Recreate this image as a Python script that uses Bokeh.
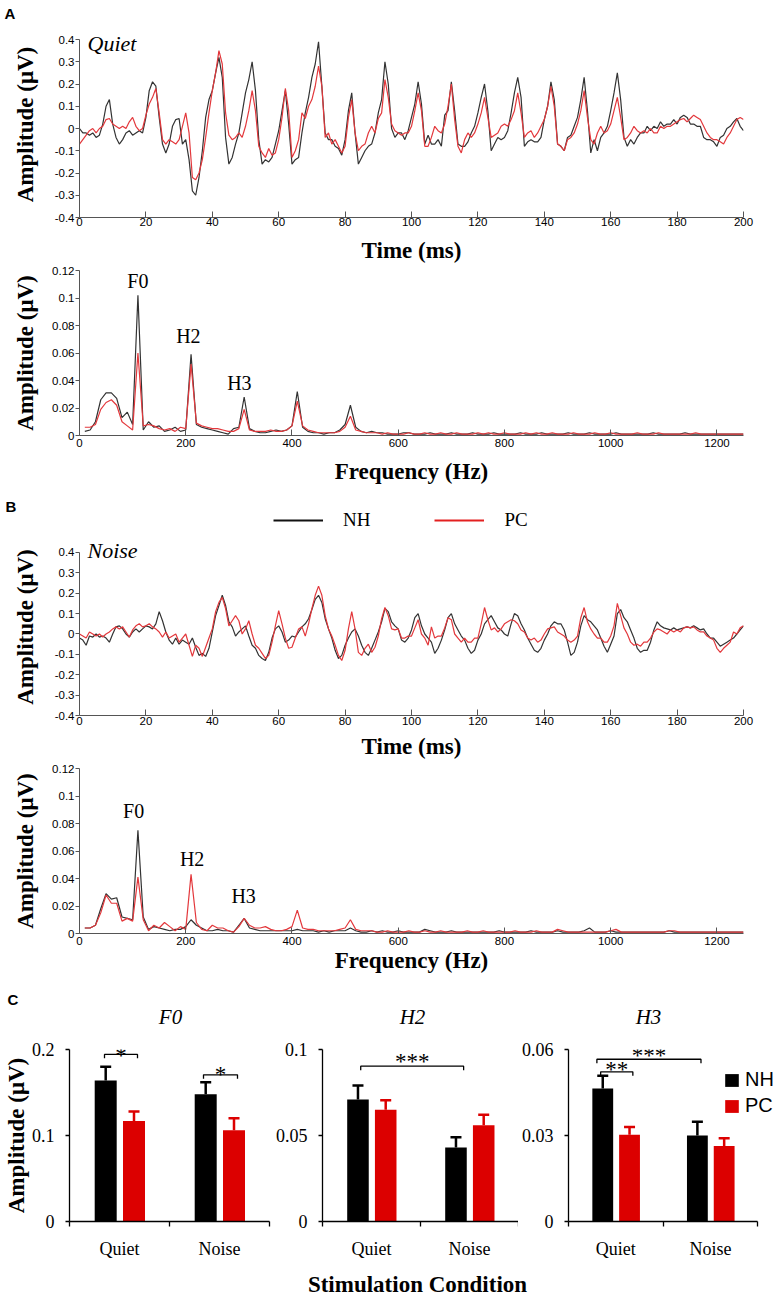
from math import pi
from bokeh.plotting import figure
from bokeh.models import (ColumnDataSource, FixedTicker, Label, Legend, LegendItem,
                          Whisker, TeeHead, Range1d)
from bokeh.layouts import column, row
from bokeh.embed import file_html
from bokeh.resources import INLINE
from bokeh.core.properties import value

# ------------------------------------------------------------------ data
time_ms = list(range(0, 201))

quiet_nh = [
    0.00, -0.02, -0.02, -0.03, -0.02, -0.04, -0.03, 0.02, 0.10, 0.13,
    0.02, -0.04, -0.07, -0.05, -0.02, -0.01, -0.03, -0.02, -0.01, -0.02,
    0.05, 0.17, 0.21, 0.19, 0.05, -0.07, -0.11, -0.07, 0.01, 0.04,
    0.045, -0.07, -0.05, -0.14, -0.28, -0.30, -0.22, -0.10, 0.05, 0.13,
    0.17, 0.25, 0.32, 0.23, -0.04, -0.16, -0.13, -0.07, -0.02, 0.07,
    0.16, 0.22, 0.30, 0.17, -0.05, -0.16, -0.14, -0.15, -0.13, -0.07,
    -0.01, 0.08, 0.17, 0.02, -0.16, -0.14, -0.13, -0.02, 0.07, 0.14,
    0.23, 0.29, 0.39, 0.19, -0.02, -0.05, -0.05, -0.08, -0.09, -0.12,
    -0.05, 0.08, 0.16, -0.02, -0.16, -0.13, -0.10, -0.08, -0.07, -0.02,
    0.07, 0.13, 0.30, 0.20, 0.00, -0.04, -0.02, -0.02, -0.05, -0.01,
    0.05, 0.11, 0.21, 0.11, -0.07, -0.03, -0.07, -0.07, -0.05, -0.08,
    0.06, 0.08, 0.21, 0.08, -0.07, -0.08, -0.08, -0.06, -0.02, 0.01,
    0.07, 0.14, 0.20, 0.08, -0.10, -0.07, -0.04, -0.05, -0.04, -0.01,
    0.07, 0.16, 0.23, 0.14, -0.08, -0.06, -0.05, -0.06, -0.06, -0.04,
    0.04, 0.10, 0.21, 0.13, -0.07, -0.08, -0.10, -0.04, -0.03, 0.01,
    0.05, 0.13, 0.23, 0.08, -0.11, -0.05, -0.10, -0.04, -0.02, 0.01,
    0.08, 0.16, 0.25, 0.13, -0.04, -0.08, -0.05, -0.07, -0.04, -0.02,
    -0.02, 0.01, -0.01, 0.01, 0.00, 0.03, 0.01, 0.02, 0.02, 0.04,
    0.02, 0.05, 0.06, 0.05, 0.02, 0.02, 0.01, 0.01, -0.04, -0.05,
    -0.05, -0.06, -0.08, -0.04, -0.03, 0.00, 0.01, 0.03, 0.045, 0.01,
    -0.01,
]

quiet_pc = [
    -0.07, -0.05, -0.03, -0.01, 0.00, -0.02, 0.00, 0.01, 0.04, 0.045,
    0.02, 0.01, 0.00, 0.01, 0.00, 0.03, 0.05, 0.01, -0.01, 0.00,
    0.06, 0.11, 0.14, 0.18, 0.07, -0.05, -0.07, -0.05, -0.06, -0.07,
    -0.05, 0.01, 0.07, -0.02, -0.22, -0.23, -0.20, -0.14, -0.04, 0.07,
    0.17, 0.25, 0.35, 0.29, 0.07, -0.03, -0.05, -0.04, -0.02, -0.04,
    0.01, 0.08, 0.17, 0.08, -0.08, -0.11, -0.13, -0.09, -0.12, -0.11,
    -0.05, 0.05, 0.18, 0.08, -0.13, -0.10, -0.05, 0.07, 0.045, 0.10,
    0.13, 0.19, 0.28, 0.19, -0.04, -0.02, -0.07, -0.05, -0.08, -0.11,
    -0.08, 0.05, 0.13, -0.02, -0.10, -0.08, -0.07, -0.02, 0.01, -0.02,
    0.045, 0.07, 0.22, 0.14, 0.02, -0.01, -0.02, -0.03, -0.02, -0.02,
    0.01, 0.08, 0.16, 0.08, -0.08, -0.08, -0.04, 0.01, -0.01, -0.02,
    0.02, 0.10, 0.20, 0.04, -0.08, -0.11, -0.05, -0.02, -0.04, -0.02,
    0.02, 0.07, 0.14, 0.05, -0.04, -0.03, -0.02, 0.01, 0.02, 0.01,
    0.04, 0.08, 0.16, 0.07, -0.04, -0.02, -0.01, -0.04, -0.02, 0.01,
    0.04, 0.10, 0.19, 0.10, -0.07, -0.08, -0.10, -0.05, -0.04, -0.02,
    0.02, 0.08, 0.17, 0.05, -0.05, -0.07, -0.02, 0.01, -0.02, -0.01,
    0.02, 0.08, 0.14, 0.05, -0.05, -0.04, -0.02, 0.01, -0.01, -0.02,
    -0.01, -0.02, 0.00, -0.02, -0.02, 0.01, 0.00, 0.01, 0.01, 0.02,
    0.03, 0.04, 0.045, 0.03, 0.045, 0.06, 0.05, 0.04, 0.01, -0.02,
    -0.04, -0.05, -0.05, -0.06, -0.07, -0.04, -0.02, 0.01, 0.04, 0.05,
    0.04,
]

noise_nh = [
    -0.02, -0.03, -0.055, -0.01, -0.015, 0.00, -0.015, -0.01, -0.02, -0.04,
    0.00, 0.035, 0.04, 0.025, 0.00, -0.015, 0.01, 0.025, 0.01, 0.025,
    0.04, 0.035, 0.025, 0.05, 0.11, 0.065, 0.01, -0.03, -0.05, -0.02,
    -0.05, -0.03, -0.04, -0.05, -0.02, -0.065, -0.105, -0.095, -0.11, -0.07,
    0.01, 0.09, 0.14, 0.19, 0.14, 0.06, 0.035, -0.01, 0.01, 0.025,
    0.04, -0.01, -0.055, -0.07, -0.105, -0.12, -0.13, -0.09, -0.02, 0.025,
    0.04, 0.01, -0.04, -0.03, -0.01, -0.015, 0.01, 0.035, 0.05, 0.075,
    0.12, 0.17, 0.19, 0.155, 0.075, 0.025, -0.02, -0.08, -0.12, -0.105,
    -0.055, -0.02, 0.01, 0.025, -0.01, -0.055, -0.09, -0.105, -0.07, -0.03,
    0.01, 0.06, 0.125, 0.11, 0.06, 0.04, 0.025, -0.03, -0.04, -0.02,
    0.02, 0.08, 0.10, 0.04, 0.00, -0.02, -0.04, -0.095, -0.07, -0.03,
    0.02, 0.08, 0.10, 0.05, 0.02, -0.01, -0.03, -0.07, -0.095, -0.08,
    -0.03, 0.00, 0.05, 0.07, 0.09, 0.06, 0.03, 0.02, 0.00, -0.01,
    0.05, 0.10, 0.09, 0.05, 0.02, -0.02, -0.05, -0.08, -0.09, -0.07,
    -0.03, 0.00, 0.04, 0.06, 0.05, 0.05, 0.02, -0.04, -0.105, -0.09,
    -0.04, 0.04, 0.09, 0.07, 0.06, 0.04, 0.02, -0.02, -0.06, -0.09,
    -0.05, -0.01, 0.10, 0.12, 0.08, 0.06, 0.02, -0.02, -0.07, -0.09,
    -0.08, -0.08, -0.04, 0.02, 0.06, 0.04, 0.03, 0.025, 0.02, 0.03,
    0.02, 0.025, 0.03, 0.035, 0.03, 0.04, 0.03, 0.02, 0.025, 0.00,
    -0.02, -0.02, -0.04, -0.06, -0.05, -0.04, -0.03, -0.02, 0.00, 0.02,
    0.04,
]

noise_pc = [
    0.00, -0.01, -0.02, 0.01, 0.00, -0.01, 0.00, -0.015, 0.00, 0.01,
    0.025, 0.035, 0.025, 0.035, 0.01, -0.015, 0.02, 0.04, 0.05, 0.035,
    0.04, 0.05, 0.035, 0.025, 0.01, -0.015, 0.01, -0.02, -0.01, 0.00,
    -0.04, -0.02, 0.00, -0.055, -0.11, -0.055, -0.07, -0.11, -0.065, -0.02,
    0.025, 0.11, 0.155, 0.18, 0.125, 0.04, 0.065, 0.09, 0.065, 0.00,
    0.025, 0.065, 0.00, -0.055, -0.07, -0.095, -0.12, -0.105, -0.04, 0.04,
    0.115, 0.05, -0.02, -0.07, -0.065, -0.02, 0.025, 0.035, -0.01, 0.05,
    0.125, 0.19, 0.235, 0.19, 0.09, 0.025, -0.01, -0.055, -0.105, -0.13,
    -0.08, 0.025, 0.11, 0.025, -0.09, -0.105, -0.07, -0.05, -0.09, -0.065,
    -0.01, 0.075, 0.13, 0.09, 0.025, 0.02, 0.025, -0.02, -0.02, -0.01,
    -0.01, 0.03, 0.07, 0.00, -0.02, -0.055, 0.035, -0.02, -0.01, -0.01,
    0.03, 0.08, 0.07, 0.00, -0.02, -0.04, -0.02, -0.04, -0.04, -0.02,
    -0.02, 0.05, 0.13, 0.07, 0.02, 0.03, 0.01, 0.025, 0.05, 0.06,
    0.07, 0.065, 0.05, 0.02, 0.01, -0.02, -0.03, -0.02, -0.04, -0.03,
    0.00, 0.025, 0.03, 0.035, 0.01, 0.00, -0.01, -0.03, -0.04, -0.03,
    -0.01, 0.08, 0.13, 0.06, 0.025, 0.00, -0.02, -0.02, -0.04, -0.04,
    -0.01, 0.04, 0.15, 0.09, 0.03, 0.00, -0.04, -0.055, -0.05, -0.06,
    -0.04, -0.04, -0.02, 0.01, 0.025, 0.02, 0.01, 0.00, 0.02, 0.01,
    0.02, 0.01, 0.03, 0.035, 0.03, 0.035, 0.02, 0.01, 0.01, -0.01,
    -0.02, -0.03, -0.07, -0.09, -0.07, -0.055, -0.04, 0.01, 0.00, 0.03,
    0.04,
]

freq_hz = list(range(10, 1251, 10))

spec_quiet_nh = [
    0.003, 0.004, 0.010, 0.026, 0.031, 0.031, 0.027, 0.013, 0.017, 0.008,
    0.102, 0.004, 0.010, 0.006, 0.007, 0.003, 0.004, 0.006, 0.003, 0.004,
    0.059, 0.008, 0.006, 0.005, 0.004, 0.003, 0.002, 0.001, 0.005, 0.006,
    0.028, 0.005, 0.003, 0.002, 0.002, 0.003, 0.004, 0.003, 0.004, 0.007,
    0.032, 0.006, 0.003, 0.002, 0.002, 0.001, 0.002, 0.002, 0.004, 0.008,
    0.022, 0.006, 0.003, 0.002, 0.003,
    0.002, 0.002, 0.001, 0.001, 0.001, 0.002, 0.002, 0.001, 0.001, 0.001,
    0.002, 0.001, 0.001, 0.001, 0.002, 0.001, 0.001, 0.001, 0.002, 0.001,
    0.001, 0.001, 0.002, 0.001, 0.001, 0.001, 0.001, 0.002, 0.001, 0.001,
    0.001, 0.002, 0.001, 0.001, 0.001, 0.001, 0.002, 0.001, 0.001, 0.001,
    0.002, 0.001, 0.001, 0.001, 0.001, 0.002, 0.001, 0.001, 0.001, 0.001,
    0.001, 0.001, 0.002, 0.001, 0.001, 0.001, 0.001, 0.001, 0.002, 0.001,
    0.001, 0.001, 0.001, 0.001, 0.001, 0.001, 0.001, 0.001, 0.001, 0.001,
]

spec_quiet_pc = [
    0.006, 0.006, 0.008, 0.019, 0.024, 0.026, 0.022, 0.010, 0.007, 0.004,
    0.060, 0.007, 0.008, 0.007, 0.005, 0.004, 0.005, 0.003, 0.006, 0.005,
    0.052, 0.009, 0.007, 0.006, 0.005, 0.005, 0.004, 0.003, 0.003, 0.005,
    0.019, 0.004, 0.003, 0.003, 0.003, 0.004, 0.003, 0.003, 0.004, 0.007,
    0.025, 0.007, 0.004, 0.003, 0.002, 0.002, 0.002, 0.002, 0.003, 0.006,
    0.014, 0.004, 0.003, 0.002, 0.002,
    0.002, 0.001, 0.002, 0.001, 0.001, 0.001, 0.002, 0.001, 0.001, 0.002,
    0.001, 0.001, 0.002, 0.001, 0.001, 0.002, 0.001, 0.001, 0.001, 0.002,
    0.001, 0.002, 0.001, 0.001, 0.002, 0.001, 0.001, 0.001, 0.002, 0.001,
    0.002, 0.001, 0.001, 0.002, 0.001, 0.001, 0.001, 0.002, 0.001, 0.001,
    0.001, 0.002, 0.001, 0.001, 0.002, 0.001, 0.001, 0.001, 0.001, 0.002,
    0.001, 0.001, 0.001, 0.002, 0.001, 0.001, 0.001, 0.001, 0.001, 0.001,
    0.002, 0.001, 0.001, 0.001, 0.001, 0.001, 0.001, 0.001, 0.001, 0.001,
]

spec_noise_nh = [
    0.004, 0.004, 0.006, 0.018, 0.029, 0.025, 0.026, 0.012, 0.011, 0.010,
    0.075, 0.012, 0.003, 0.005, 0.004, 0.003, 0.002, 0.003, 0.003, 0.005,
    0.010, 0.006, 0.004, 0.002, 0.002, 0.003, 0.002, 0.002, 0.001, 0.006,
    0.011, 0.004, 0.003, 0.002, 0.002, 0.002, 0.002, 0.002, 0.002, 0.002,
    0.003, 0.002, 0.002, 0.002, 0.001, 0.002, 0.001, 0.002, 0.002, 0.002,
    0.004, 0.002, 0.001, 0.001, 0.002,
    0.001, 0.002, 0.001, 0.001, 0.002, 0.001, 0.001, 0.001, 0.001, 0.003,
    0.002, 0.001, 0.001, 0.001, 0.002, 0.001, 0.001, 0.001, 0.001, 0.001,
    0.001, 0.001, 0.001, 0.002, 0.001, 0.001, 0.001, 0.001, 0.001, 0.002,
    0.001, 0.001, 0.001, 0.001, 0.002, 0.001, 0.001, 0.001, 0.001, 0.002,
    0.004, 0.001, 0.001, 0.001, 0.002, 0.001, 0.001, 0.001, 0.001, 0.001,
    0.001, 0.001, 0.001, 0.001, 0.001, 0.002, 0.001, 0.001, 0.001, 0.001,
    0.001, 0.001, 0.001, 0.001, 0.001, 0.001, 0.001, 0.001, 0.001, 0.001,
]

spec_noise_pc = [
    0.004, 0.004, 0.006, 0.015, 0.028, 0.022, 0.022, 0.009, 0.011, 0.009,
    0.041, 0.010, 0.002, 0.006, 0.004, 0.008, 0.005, 0.002, 0.005, 0.003,
    0.043, 0.008, 0.003, 0.002, 0.006, 0.004, 0.004, 0.002, 0.001, 0.005,
    0.011, 0.006, 0.004, 0.004, 0.005, 0.003, 0.002, 0.002, 0.003, 0.005,
    0.017, 0.004, 0.003, 0.003, 0.002, 0.002, 0.002, 0.002, 0.003, 0.004,
    0.010, 0.003, 0.002, 0.002, 0.002,
    0.001, 0.001, 0.002, 0.001, 0.001, 0.001, 0.002, 0.001, 0.001, 0.002,
    0.001, 0.001, 0.002, 0.001, 0.001, 0.001, 0.001, 0.002, 0.001, 0.001,
    0.002, 0.001, 0.001, 0.001, 0.001, 0.001, 0.002, 0.001, 0.001, 0.001,
    0.002, 0.001, 0.001, 0.001, 0.003, 0.002, 0.001, 0.001, 0.001, 0.001,
    0.001, 0.001, 0.001, 0.001, 0.002, 0.003, 0.001, 0.001, 0.001, 0.001,
    0.001, 0.001, 0.001, 0.001, 0.001, 0.002, 0.002, 0.001, 0.001, 0.001,
    0.001, 0.001, 0.001, 0.001, 0.001, 0.001, 0.001, 0.001, 0.001, 0.001,
]

# peak annotations (label, Hz, amplitude)
peak_names = ["F0", "H2", "H3"]
quiet_peak_hz = [110, 205, 301]
quiet_peak_amp = [0.1127, 0.0727, 0.0385]
noise_peak_hz = [102, 212, 309]
noise_peak_amp = [0.089, 0.054, 0.0276]

# tick labels
time_ticks = [0, 20, 40, 60, 80, 100, 120, 140, 160, 180, 200]
wave_yticks = [-0.4, -0.3, -0.2, -0.1, 0, 0.1, 0.2, 0.3, 0.4]
wave_ylabels = ["-0.4", "-0.3", "-0.2", "-0.1", "0", "0.1", "0.2", "0.3", "0.4"]
freq_ticks = [0, 200, 400, 600, 800, 1000, 1200]
spec_yticks = [0, 0.02, 0.04, 0.06, 0.08, 0.1, 0.12]
spec_ylabels = ["0", "0.02", "0.04", "0.06", "0.08", "0.1", "0.12"]

# bar chart data (panel C)
conditions = ["Quiet", "Noise"]
group_pos = [0.5, 1.5]
groups = ["NH", "PC"]
f0_nh_mean = [0.164, 0.148]
f0_nh_sem = [0.016, 0.014]
f0_pc_mean = [0.117, 0.106]
f0_pc_sem = [0.011, 0.014]
h2_nh_mean = [0.071, 0.043]
h2_nh_sem = [0.008, 0.006]
h2_pc_mean = [0.065, 0.056]
h2_pc_sem = [0.0055, 0.006]
h3_nh_mean = [0.0464, 0.0300]
h3_nh_sem = [0.0044, 0.0048]
h3_pc_mean = [0.0303, 0.0263]
h3_pc_sem = [0.0027, 0.0027]

f0_yticks = [0, 0.1, 0.2]
f0_ylabels = ["0", "0.1", "0.2"]
h2_yticks = [0, 0.05, 0.1]
h2_ylabels = ["0", "0.05", "0.1"]
h3_yticks = [0, 0.03, 0.06]
h3_ylabels = ["0", "0.03", "0.06"]

# significance brackets: (x start, x end, height, stars)
f0_sig = [(0.35, 0.68, 0.1943, "*"), (1.34, 1.68, 0.1705, "*")]
h2_sig = [(0.39, 1.44, 0.0903, "***")]
h3_sig = [(0.30, 1.40, 0.0566, "***"), (0.34, 0.68, 0.0522, "**")]
f0_star_dy = [1, 0]
h2_star_dy = [-5]
h3_star_dy = [-3.5, -2.5]

# ------------------------------------------------------------------ style
SANS = "Liberation Sans"
SERIF = "Liberation Serif"
AX_GRAY = "#555555"
NH_LINE = "#333333"
PC_LINE = "#e3383c"
NH_BAR = "#000000"
PC_BAR = "#dc0000"
PAGE_W = 775
NH_OFF = -0.138
PC_OFF = 0.145
BAR_W = 0.22
NAN = float("nan")


def base_fig(width, height, xr, yr, mbl, mbr, mbt, mbb, axes=True):
    kw = {} if axes else dict(x_axis_type=None, y_axis_type=None)
    p = figure(width=width, height=height, x_range=Range1d(*xr), y_range=Range1d(*yr),
               output_backend="svg", toolbar_location=None,
               min_border_left=mbl, min_border_right=mbr,
               min_border_top=mbt, min_border_bottom=mbb, **kw)
    p.outline_line_color = None
    p.grid.visible = False
    p.background_fill_color = "white"
    p.border_fill_color = "white"
    return p


def strip(height):
    return base_fig(PAGE_W, height, (0, PAGE_W), (0, height), 0, 0, 0, 0, axes=False)


def add_label(p, x, y, text, font, size, style="normal", align="left",
              baseline="middle", angle=0, units="screen"):
    p.add_layout(Label(x=x, y=y, x_units=units, y_units=units, text=text,
                       text_font=font, text_font_size=size, text_font_style=style,
                       text_align=align, text_baseline=baseline, angle=angle,
                       text_color="black"))


def signal_fig(height, mbt, mbb, xr, xticks, yr, ybounds, yticks, ylabels,
               xlabel, xlab_standoff, xtick_standoff, ylab_standoff):
    p = base_fig(PAGE_W, height, xr, yr, 79, 32, mbt, mbb)
    xa, ya = p.xaxis[0], p.yaxis[0]
    xa.ticker = FixedTicker(ticks=xticks)
    ya.ticker = FixedTicker(ticks=yticks)
    ya.major_label_overrides = dict(zip(yticks, ylabels))
    ya.bounds = ybounds
    for ax in (xa, ya):
        ax.axis_line_color = AX_GRAY
        ax.axis_line_width = 1
        ax.major_tick_line_color = AX_GRAY
        ax.minor_tick_line_color = None
        ax.major_label_text_font = SANS
        ax.major_label_text_font_size = "11.5px"
        ax.major_label_text_color = "black"
        ax.axis_label_text_font = SERIF
        ax.axis_label_text_font_style = "bold"
        ax.axis_label_text_font_size = "23px"
        ax.axis_label_text_color = "black"
    xa.major_tick_in = 6
    xa.major_tick_out = 0
    ya.major_tick_in = 0
    ya.major_tick_out = 4
    xa.major_label_standoff = xtick_standoff
    ya.major_label_standoff = 1
    xa.axis_label = xlabel
    xa.axis_label_standoff = xlab_standoff
    ya.axis_label = "Amplitude (μV)"
    ya.axis_label_standoff = ylab_standoff
    return p


# ---------------- A: label strip
sA = strip(31)
add_label(sA, 4, 18.5, "A", SANS, "15px", "bold", units="data")

# ---------------- A: quiet waveform (frame extended above 0.4 to hold the title)
p1 = signal_fig(234, 0, 48, (0, 200), time_ticks, (-0.4, 0.436), (-0.4, 0.4),
                wave_yticks, wave_ylabels, "Time (ms)", 9, 0, 14)
p1.line(time_ms, quiet_nh, line_color=NH_LINE, line_width=1.2)
p1.line(time_ms, quiet_pc, line_color=PC_LINE, line_width=1.2)
add_label(p1, 8, 174, "Quiet", SERIF, "22px", "italic")

# ---------------- A: quiet spectrum
p2 = signal_fig(222, 5, 52, (0, 1250), freq_ticks, (0, 0.12), (0, 0.12),
                spec_yticks, spec_ylabels, "Frequency (Hz)", 9, 3, 11)
p2.line(freq_hz, spec_quiet_nh, line_color=NH_LINE, line_width=1.2)
p2.line(freq_hz, spec_quiet_pc, line_color=PC_LINE, line_width=1.2)
p2.text(x=quiet_peak_hz, y=quiet_peak_amp, text=peak_names, text_align="center",
        text_baseline="middle", text_font=value(SERIF), text_font_size="20px",
        text_color="black")

# ---------------- B: label + legend strip
sB = strip(51)
add_label(sB, 5, 32.5, "B", SANS, "15px", "bold", units="data")
proxy_src = ColumnDataSource(dict(x=[NAN], y=[NAN]))
proxy_nh = sB.line(x="x", y="y", source=proxy_src, line_color="#111111", line_width=2.2)
proxy_pc = sB.line(x="x", y="y", source=proxy_src, line_color="#e32020", line_width=2.2)
leg_b = Legend(items=[LegendItem(label=groups[0], renderers=[proxy_nh]),
                      LegendItem(label=groups[1], renderers=[proxy_pc])],
               orientation="horizontal", location=(273, 7),
               glyph_width=50, glyph_height=20, label_standoff=20, spacing=64,
               padding=0, margin=0, border_line_color=None, background_fill_alpha=0,
               label_text_font=SERIF, label_text_font_size="19px", label_text_color="black")
sB.add_layout(leg_b)

# ---------------- B: noise waveform
p3 = signal_fig(224, 0, 47, (0, 200), time_ticks, (-0.4, 0.4687), (-0.4, 0.4),
                wave_yticks, wave_ylabels, "Time (ms)", 6, 1, 14)
p3.line(time_ms, noise_nh, line_color=NH_LINE, line_width=1.2)
p3.line(time_ms, noise_pc, line_color=PC_LINE, line_width=1.2)
add_label(p3, 8, 165.5, "Noise", SERIF, "22px", "italic")

# ---------------- B: noise spectrum
p4 = signal_fig(215, 6, 44, (0, 1250), freq_ticks, (0, 0.12), (0, 0.12),
                spec_yticks, spec_ylabels, "Frequency (Hz)", 0, 3, 11)
p4.line(freq_hz, spec_noise_nh, line_color=NH_LINE, line_width=1.2)
p4.line(freq_hz, spec_noise_pc, line_color=PC_LINE, line_width=1.2)
p4.text(x=noise_peak_hz, y=noise_peak_amp, text=peak_names, text_align="center",
        text_baseline="middle", text_font=value(SERIF), text_font_size="20px",
        text_color="black")

# ---------------- C: label + titles strip
sC = strip(61)
add_label(sC, 7, 39.5, "C", SANS, "15px", "bold", units="data")
for tx, name in zip([170, 412, 648], peak_names):
    add_label(sC, tx, 22, name, SERIF, "21px", "italic", align="center", units="data")


# ---------------- C: bar charts
def bar_fig(width, mbl, mbr, x_end, y_top, yticks, ylabels, nh_mean, nh_sem,
            pc_mean, pc_sem, sig, drop, star_dy):
    p = base_fig(width, 223, (0, x_end), (0, y_top), mbl, mbr, 11, 36)
    xa, ya = p.xaxis[0], p.yaxis[0]
    xa.ticker = FixedTicker(ticks=group_pos, minor_ticks=[0, 1, 2])
    xa.major_label_overrides = dict(zip(group_pos, conditions))
    ya.ticker = FixedTicker(ticks=yticks)
    ya.major_label_overrides = dict(zip(yticks, ylabels))
    xa.bounds = (0, 2)
    ya.bounds = (0, yticks[-1])
    for ax in (xa, ya):
        ax.axis_line_color = "black"
        ax.axis_line_width = 1.3
        ax.major_label_text_font = SERIF
        ax.major_label_text_font_size = "18px"
        ax.major_label_text_color = "black"
    xa.major_tick_line_color = None
    xa.major_tick_in = 0
    xa.major_tick_out = 0
    xa.minor_tick_line_color = "black"
    xa.minor_tick_line_width = 1.3
    xa.minor_tick_in = 0
    xa.minor_tick_out = 5
    xa.major_label_standoff = 12
    ya.major_tick_line_color = "black"
    ya.major_tick_line_width = 1.3
    ya.major_tick_in = 0
    ya.major_tick_out = 4
    ya.minor_tick_line_color = None
    ya.major_label_standoff = 11

    renderers = []
    for off, mean, sem, col in ((NH_OFF, nh_mean, nh_sem, NH_BAR),
                                (PC_OFF, pc_mean, pc_sem, PC_BAR)):
        src = ColumnDataSource(dict(x=[g + off for g in group_pos], top=mean,
                                    upper=[m + s for m, s in zip(mean, sem)]))
        r = p.vbar(x="x", top="top", width=BAR_W, source=src, fill_color=col, line_color=None)
        renderers.append(r)
        p.add_layout(Whisker(source=src, base="x", lower="top", upper="upper",
                             dimension="height", line_color=col, line_width=2.5,
                             upper_head=TeeHead(size=11, line_color=col, line_width=2.5),
                             lower_head=None, level="glyph"))
    xs = [[s[0], s[0], s[1], s[1]] for s in sig]
    ys = [[s[2] - drop, s[2], s[2], s[2] - drop] for s in sig]
    p.multi_line(xs, ys, line_color="black", line_width=1.3)
    p.text(x=[(s[0] + s[1]) / 2 for s in sig], y=[s[2] for s in sig], text=[s[3] for s in sig],
           text_align="center", text_baseline="middle", y_offset=star_dy,
           text_font=value(SERIF), text_font_size="23px", text_color="black")
    return p, renderers


pf0, _ = bar_fig(272, 69, 3, 2, 0.2, f0_yticks, f0_ylabels, f0_nh_mean, f0_nh_sem,
                 f0_pc_mean, f0_pc_sem, f0_sig, 0.0045, f0_star_dy)
pf0.yaxis[0].axis_label = "Amplitude (μV)"
pf0.yaxis[0].axis_label_standoff = 0
pf0.yaxis[0].axis_label_text_font = SERIF
pf0.yaxis[0].axis_label_text_font_style = "bold"
pf0.yaxis[0].axis_label_text_font_size = "23px"
pf0.yaxis[0].axis_label_text_color = "black"

ph2, _ = bar_fig(246, 49, 0, 2, 0.1, h2_yticks, h2_ylabels, h2_nh_mean, h2_nh_sem,
                 h2_pc_mean, h2_pc_sem, h2_sig, 0.0023, h2_star_dy)

ph3, bars3 = bar_fig(257, 47, 0, 2.1875, 0.06, h3_yticks, h3_ylabels, h3_nh_mean, h3_nh_sem,
                     h3_pc_mean, h3_pc_sem, h3_sig, 0.0014, h3_star_dy)
leg_c = Legend(items=[LegendItem(label=groups[0], renderers=[bars3[0]]),
                      LegendItem(label=groups[1], renderers=[bars3[1]])],
               location=(155, 104), glyph_width=17, glyph_height=16, label_standoff=5,
               spacing=3, padding=0, margin=0, border_line_color=None,
               background_fill_alpha=0, label_text_font=SANS, label_text_font_size="20px",
               label_text_color="black")
ph3.add_layout(leg_c)

# ---------------- bottom strip: common x label
sD = strip(37)
add_label(sD, 417, 14, "Stimulation Condition", SERIF, "23px", "bold", align="center",
          units="data")

layout = column(row(sA), p1, p2, row(sB), p3, p4, row(sC), row(pf0, ph2, ph3), row(sD))
open("out.html", "w").write(file_html(layout, INLINE))
